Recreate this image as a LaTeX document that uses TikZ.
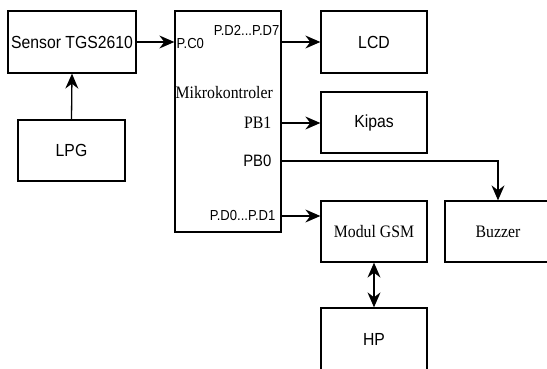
\documentclass[tikz,border=0pt]{standalone}
\usepackage{fontspec}
\setmainfont[FakeStretch=0.9]{Liberation Serif}
\newfontfamily\arialfont[FakeStretch=0.9]{Liberation Sans}
\usetikzlibrary{arrows.meta}

\begin{document}
\begin{tikzpicture}[
		x=1pt, y=-1pt,
		every node/.style={rectangle, draw, line width=1.3pt, inner sep=0pt},
		blok/.style={minimum width=106pt, minimum height=62pt},
		sanslabel/.style={font=\arialfont\fontsize{17.5}{20}\selectfont},
		seriflabel/.style={font=\fontsize{17.5}{20}\selectfont},
		portlabel/.style={draw=none, font=\arialfont\fontsize{14.5}{16}\selectfont},
		panah/.style={line width=1.3pt, -{Stealth[length=15pt, width=13pt, inset=5pt]}},
		duaarah/.style={line width=1.3pt, {Stealth[length=15pt, width=13pt, inset=5pt]}-{Stealth[length=15pt, width=13pt, inset=5pt]}}
	]
  \path[use as bounding box, clip] (0,0) rectangle (547,369);
  \node (sensor) [blok, sanslabel, minimum width=128pt] at (72, 42) {Sensor TGS2610};
  \node (lpg) [blok, sanslabel, minimum width=107pt, minimum height=61pt] at (71.5, 150.5) {LPG};
  \node (mikro) [minimum width=106pt, minimum height=221pt] at (228, 121.5) {};
  \node (lcd) [blok, sanslabel] at (374, 42) {LCD};
  \node (kipas) [blok, sanslabel, minimum height=61pt] at (374, 122.5) {Kipas};
  \node (gsm) [blok, seriflabel, minimum height=61pt] at (374, 231.5) {Modul GSM};
  \node (buzzer) [blok, seriflabel, minimum height=61pt] at (498, 231.5) {Buzzer};
  \node (hp) [blok, sanslabel] at (374, 339) {HP};
  % label pin mikrokontroler
  \node (pc0) [portlabel, anchor=west] at (176, 44) {P.C0};
  \node (pd27) [portlabel, anchor=east] at (280, 30) {P.D2...P.D7};
  \node (judul) [draw=none, seriflabel, anchor=west] at (175, 93) {Mikrokontroler};
  \node (pb1) [draw=none, seriflabel, anchor=east] at (272, 123) {PB1};
  \node (pb0) [draw=none, sanslabel, font=\arialfont\fontsize{16.5}{19}\selectfont, anchor=east] at (272, 161) {PB0};
  \node (pd01) [portlabel, anchor=east] at (276, 216) {P.D0...P.D1};
  \draw[panah] (lpg.north) -- (sensor.south);
  \draw[panah] (sensor.east) -- (mikro.west |- sensor.east);
  \draw[panah] (mikro.east |- lcd.west) -- (lcd.west);
  \draw[panah] (mikro.east |- pb1) -- (kipas.west |- pb1);
  \draw[panah] (mikro.east |- pb0) -| (buzzer.north);
  \draw[panah] (mikro.east |- pd01) -- (gsm.west |- pd01);
  \draw[duaarah] (gsm.south) -- (hp.north);
\end{tikzpicture}
\end{document}
